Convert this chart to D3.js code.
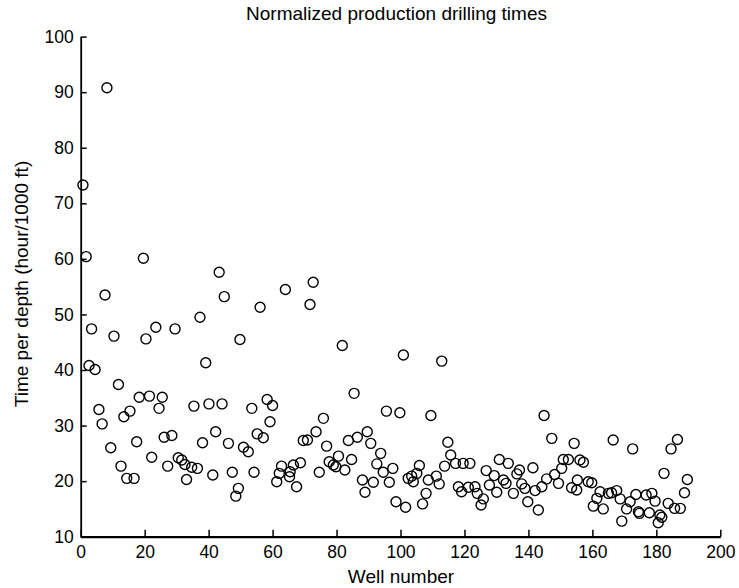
<!DOCTYPE html>
<html>
<head>
<meta charset="utf-8">
<script src="https://cdn.jsdelivr.net/npm/d3@7"></script>
<style>
  body { margin: 0; background: #fff; }
  svg { display: block; font-family: "Liberation Sans", Arial, sans-serif; }
</style>
</head>
<body>
<div id="chart"></div>
<script>
// well number (x) and normalized drilling time (y)
const wells = [
  0.7, 1.7, 2.6, 3.4, 4.5, 5.7, 6.7, 7.6, 8.2, 9.4, 10.4, 11.8, 12.6, 13.5, 14.4, 15.4, 16.7, 17.5, 18.3, 19.6,
  20.4, 21.5, 22.2, 23.5, 24.5, 25.5, 26.1, 27.2, 28.5, 29.5, 30.5, 31.6, 32.6, 33.1, 34.7, 35.4, 36.5, 37.3, 38.1, 39.1,
  40.1, 41.3, 42.2, 43.3, 44.2, 44.9, 46.2, 47.4, 48.5, 49.3, 49.8, 50.9, 52.4, 53.5, 54.2, 55.2, 56.1, 57.1, 58.3, 59.2,
  60.0, 61.3, 62.1, 62.8, 64.0, 65.3, 65.5, 66.5, 67.5, 68.7, 69.6, 70.9, 71.7, 72.7, 73.6, 74.6, 75.9, 76.9, 77.7, 79.0,
  79.8, 80.6, 81.8, 82.6, 83.7, 84.7, 85.5, 86.5, 88.1, 88.9, 89.6, 90.7, 91.5, 92.6, 93.8, 94.6, 95.6, 96.5, 97.6, 98.6,
  99.8, 100.9, 101.6, 102.4, 103.5, 104.0, 105.1, 105.9, 106.9, 108.0, 108.7, 109.5, 111.2, 112.1, 112.9, 113.8, 114.8, 115.7, 117.2, 118.1,
  119.1, 119.6, 121.2, 121.7, 123.3, 124.0, 125.2, 125.9, 126.8, 127.8, 129.3, 130.1, 130.9, 132.2, 133.0, 133.7, 135.3, 136.4, 137.2, 137.9,
  138.9, 139.8, 141.4, 142.1, 143.1, 144.2, 144.9, 145.7, 147.3, 148.2, 149.4, 150.4, 150.9, 152.5, 153.5, 154.3, 155.1, 155.3, 156.1, 157.2,
  158.7, 159.8, 160.3, 161.4, 162.4, 163.4, 165.0, 166.0, 166.5, 167.6, 168.7, 169.2, 170.7, 171.8, 172.6, 173.6, 174.4, 174.7, 176.8, 177.8,
  178.6, 179.6, 180.6, 181.1, 181.7, 182.4, 183.7, 184.6, 185.7, 186.6, 187.5, 188.8, 189.7
];
const times = [
  73.3, 60.4, 40.8, 47.4, 40.1, 32.9, 30.3, 53.5, 90.8, 26.0, 46.1, 37.4, 22.7, 31.6, 20.5, 32.6, 20.5, 27.1, 35.1, 60.1,
  45.6, 35.3, 24.3, 47.7, 33.1, 35.1, 27.9, 22.7, 28.2, 47.4, 24.2, 23.8, 23.0, 20.3, 22.5, 33.5, 22.3, 49.5, 26.9, 41.3,
  33.9, 21.1, 28.9, 57.6, 33.9, 53.2, 26.8, 21.6, 17.3, 18.7, 45.5, 26.1, 25.3, 33.1, 21.6, 28.5, 51.3, 27.8, 34.7, 30.7,
  33.6, 19.9, 21.4, 22.7, 54.5, 20.8, 21.7, 22.9, 19.0, 23.3, 27.3, 27.4, 51.8, 55.8, 28.9, 21.6, 31.3, 26.3, 23.5, 22.9,
  22.6, 24.5, 44.4, 22.0, 27.3, 23.9, 35.8, 27.9, 20.2, 18.0, 28.9, 26.8, 19.8, 23.1, 25.0, 21.6, 32.6, 19.8, 22.3, 16.3,
  32.3, 42.7, 15.3, 20.5, 20.9, 19.9, 21.4, 22.8, 15.9, 17.8, 20.2, 31.8, 20.9, 19.5, 41.6, 22.7, 27.0, 24.7, 23.2, 19.0,
  18.1, 23.2, 18.9, 23.2, 19.0, 17.8, 15.7, 16.8, 21.9, 19.3, 21.0, 18.0, 23.9, 20.2, 19.6, 23.2, 17.8, 21.3, 22.0, 19.5,
  18.7, 16.3, 22.4, 18.3, 14.8, 19.0, 31.8, 20.4, 27.7, 21.2, 19.6, 22.3, 23.9, 23.9, 18.8, 26.8, 18.4, 20.2, 23.8, 23.4,
  19.9, 19.7, 15.5, 16.9, 18.1, 15.0, 17.8, 17.9, 27.4, 18.3, 16.8, 12.8, 15.0, 16.3, 25.8, 17.6, 14.5, 14.2, 17.5, 14.3,
  17.8, 16.4, 12.5, 13.9, 13.5, 21.4, 16.0, 25.8, 15.1, 27.5, 15.1, 17.9, 20.3
];
const xTicks = [0, 20, 40, 60, 80, 100, 120, 140, 160, 180, 200];
const yTicks = [10, 20, 30, 40, 50, 60, 70, 80, 90, 100];

const W = 739, H = 588;
const margin = { top: 36.6, right: 18.7, bottom: 51.3, left: 80.7 };
const width = W - margin.left - margin.right;
const height = H - margin.top - margin.bottom;

const svg = d3.select('#chart').append('svg')
  .attr('width', W)
  .attr('height', H);

const g = svg.append('g')
  .attr('transform', `translate(${margin.left},${margin.top})`);

const x = d3.scaleLinear().domain([0, 200]).range([0, width]);
const y = d3.scaleLinear().domain([10, 100]).range([height, 0]);

const xAxis = g.append('g')
  .attr('transform', `translate(0,${height})`)
  .call(d3.axisBottom(x).tickValues(xTicks).tickSize(-7).tickSizeOuter(0).tickPadding(9));

const yAxis = g.append('g')
  .call(d3.axisLeft(y).tickValues(yTicks).tickSize(-6).tickSizeOuter(0).tickPadding(7));

[xAxis, yAxis].forEach(a => {
  a.selectAll('text')
    .attr('fill', '#000')
    .style('font-size', '17.5px')
    .style('font-family', '"Liberation Sans", Arial, sans-serif');
  a.selectAll('line').attr('stroke', '#000').attr('stroke-width', 1.5);
});
xAxis.select('.domain').attr('stroke', '#000').attr('stroke-width', 2.2);
yAxis.select('.domain').attr('stroke', '#000').attr('stroke-width', 1.8);

g.append('g')
  .selectAll('circle')
  .data(wells.map((w, i) => ({ w, t: times[i] })))
  .join('circle')
    .attr('cx', d => x(d.w))
    .attr('cy', d => y(d.t))
    .attr('r', 5)
    .attr('fill', 'none')
    .attr('stroke', '#000')
    .attr('stroke-width', 1.4);

svg.append('text')
  .attr('x', 396.5)
  .attr('y', 20)
  .attr('text-anchor', 'middle')
  .style('font-size', '19px')
  .text('Normalized production drilling times');

svg.append('text')
  .attr('x', 401)
  .attr('y', 583)
  .attr('text-anchor', 'middle')
  .style('font-size', '19px')
  .text('Well number');

svg.append('text')
  .attr('transform', 'rotate(-90)')
  .attr('x', -284)
  .attr('y', 28)
  .attr('text-anchor', 'middle')
  .style('font-size', '19px')
  .text('Time per depth (hour/1000 ft)');
</script>
</body>
</html>
